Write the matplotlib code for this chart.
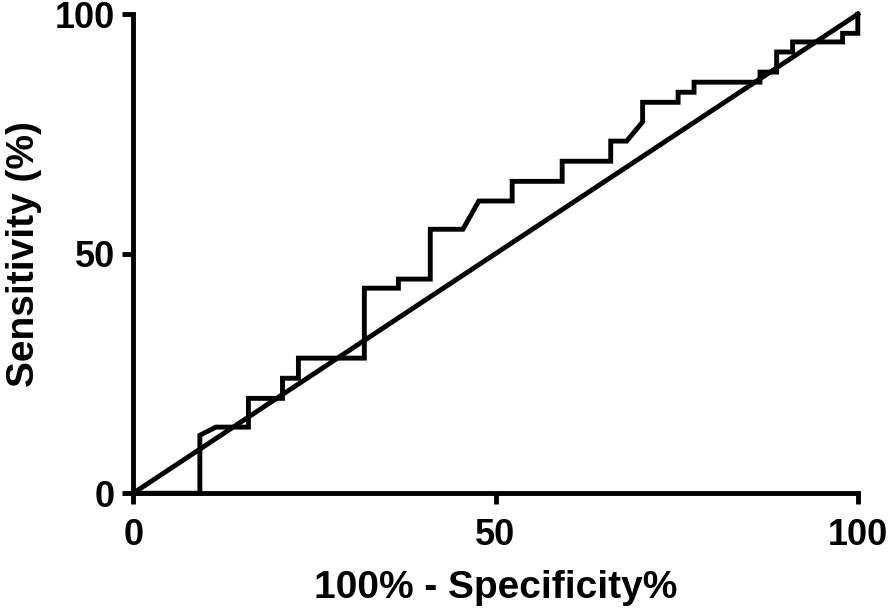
import matplotlib
matplotlib.use('Agg')
import matplotlib.pyplot as plt

# ROC curve points (100% - specificity, sensitivity)
fpr = [0, 9.2, 9.2, 11.4, 15.9, 15.9, 20.6, 20.6, 22.8, 22.8, 31.9, 31.9,
       36.6, 36.6, 41.0, 41.0, 45.5, 47.7, 52.3, 52.3, 59.2, 59.2, 65.9, 65.9,
       68.1, 70.3, 70.3, 75.2, 75.2, 77.4, 77.4, 86.5, 86.5, 88.8, 88.8,
       91.0, 91.0, 97.9, 97.9, 100, 100]
tpr = [0, 0, 12.1, 13.8, 13.8, 19.8, 19.8, 24.0, 24.0, 28.2, 28.2, 42.8,
       42.8, 44.7, 44.7, 55.1, 55.1, 61.0, 61.0, 65.1, 65.1, 69.3, 69.3, 73.5,
       73.5, 77.5, 81.6, 81.6, 83.7, 83.7, 85.8, 85.8, 87.9, 87.9, 92.1,
       92.1, 94.2, 94.2, 96.0, 96.0, 100]

# reference line of no discrimination
ref_x = [0, 100]
ref_y = [0, 100]

plt.rcParams['font.family'] = ['Liberation Sans', 'DejaVu Sans']

fig = plt.figure(figsize=(8.88, 6.15), dpi=100)
ax = fig.add_axes([0.150, 0.198, 0.816, 0.779])

ax.plot(fpr, tpr, color='black', lw=3.5, solid_joinstyle='miter', clip_on=False)
ax.plot(ref_x, ref_y, color='black', lw=3.5, clip_on=False)

ax.set_xlim(0, 100)
ax.set_ylim(0, 100)
ax.set_xticks([0, 50, 100])
ax.set_yticks([0, 50, 100])

for s in ['top', 'right']:
    ax.spines[s].set_visible(False)
for s in ['left', 'bottom']:
    ax.spines[s].set_linewidth(3.5)

ax.tick_params(direction='out', length=8, width=3.5, labelsize=26)
ax.tick_params(axis='x', pad=10)
ax.tick_params(axis='y', pad=5)
for lab in ax.get_xticklabels() + ax.get_yticklabels():
    lab.set_fontweight('bold')

ax.set_xlabel('100% - Specificity%', fontsize=28, fontweight='bold', labelpad=12)
ax.set_ylabel('Sensitivity (%)', fontsize=28, fontweight='bold', labelpad=9)

fig.savefig('out.png', dpi=100)
